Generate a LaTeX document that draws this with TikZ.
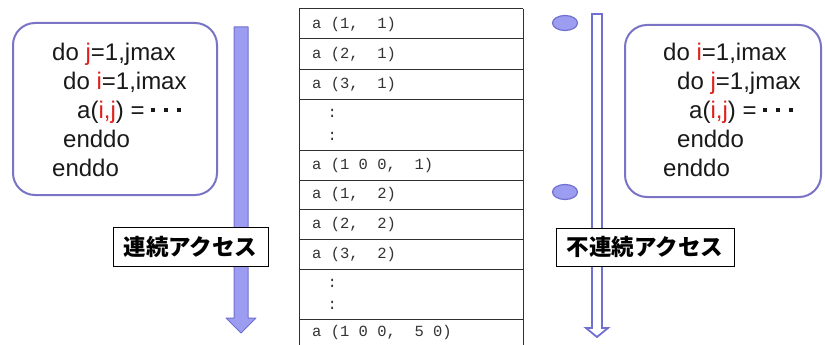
\documentclass[tikz,border=0pt]{standalone}
\usepackage{fontspec}
\setmainfont{Liberation Sans}
\newfontfamily\cjk{Noto Sans CJK JP}
\newfontfamily\monofnt{Liberation Mono}
\usetikzlibrary{shapes.geometric}
\definecolor{boxline}{HTML}{7A74C6}
\definecolor{arrfill}{HTML}{9C9CF0}
\definecolor{arrline}{HTML}{7070D0}
\definecolor{redv}{HTML}{E0201C}
\definecolor{tblline}{HTML}{303030}
\definecolor{tbltext}{HTML}{333333}
\newcommand\mydot{\rule[6pt]{3.6pt}{3.6pt}}
\newcommand\mydots{\mydot\hspace{9.4pt}\mydot\hspace{9.4pt}\mydot}
\begin{document}
\begin{tikzpicture}[x=1pt,y=-1pt,
  codebox/.style={draw=boxline, line width=2pt, rounded corners=22pt},
  codeline/.style={anchor=base west, inner sep=0pt, font=\fontsize{24}{28}\selectfont, text=black!90},
  celltext/.style={anchor=west, inner sep=0pt, font=\monofnt\fontsize{15.5}{18}\selectfont, text=tbltext},
  accesslabel/.style={draw=black, line width=0.8pt, fill=white, inner sep=0pt, font=\cjk\bfseries\fontsize{22.5}{26}\selectfont},
  dotmark/.style={ellipse, draw=arrline, fill=arrfill, line width=1.2pt, minimum width=25pt, minimum height=15pt, inner sep=0pt},
  tbl/.style={draw=tblline, line width=1pt},
]
\useasboundingbox[fill=white] (0,0) rectangle (825,345);

% left code box
\draw[codebox] (13,23) rectangle (217,195);
\node[codeline] (l1) at (52,60)  {do {\color{redv}j}=1,jmax};
\node[codeline] (l2) at (63,89)  {do {\color{redv}i}=1,imax};
\node[codeline] (l3) at (77,118) {a({\color{redv}i,j}) = \mydots};
\node[codeline] (l4) at (63,147) {enddo};
\node[codeline] (l5) at (52,176) {enddo};

% left filled arrow
\draw[fill=arrfill, draw=arrline, line width=1pt, line join=round]
  (234,27) -- (248,27) -- (248,318) -- (256,318) -- (241,333) -- (226,318) -- (234,318) -- cycle;
\node[accesslabel, minimum width=155pt, minimum height=39pt] (acc1) at (190.5,246.5) {連続アクセス};

% memory table
\foreach \yy in {9,39,70,99,150,180,209,239,269,319}
  \draw[tbl] (299,\yy) -- (523,\yy);
\draw[tbl] (299,9) -- (299,346);
\draw[tbl] (523,9) -- (523,346);
\node[celltext] (c1) at (312,24)    {a~(1,~~1)};
\node[celltext] (c2) at (312,54.5)  {a~(2,~~1)};
\node[celltext] (c3) at (312,84.5)  {a~(3,~~1)};
\node[celltext] (d1) at (327.5,113) {:};
\node[celltext] (d2) at (327.5,136) {:};
\node[celltext] (c4) at (312,165)   {a~(1~0~0,~~1)};
\node[celltext] (c5) at (312,194.5) {a~(1,~~2)};
\node[celltext] (c6) at (312,224)   {a~(2,~~2)};
\node[celltext] (c7) at (312,254)   {a~(3,~~2)};
\node[celltext] (d3) at (327.5,283) {:};
\node[celltext] (d4) at (327.5,305) {:};
\node[celltext] (c8) at (312,332.5) {a~(1~0~0,~~5~0)};

% right hollow arrow and markers
\draw[fill=white, draw=arrline, line width=1.8pt, line join=miter]
  (592,14) -- (602,14) -- (602,328) -- (608,328) -- (597,337) -- (586,328) -- (592,328) -- cycle;
\node[dotmark] (e1) at (565,23) {};
\node[dotmark] (e2) at (565,192) {};
\node[accesslabel, minimum width=178pt, minimum height=38pt] (acc2) at (645,247) {不連続アクセス};

% right code box
\draw[codebox] (625,25) rectangle (821,197);
\node[codeline] (r1) at (663,60)  {do {\color{redv}i}=1,imax};
\node[codeline] (r2) at (677,89)  {do {\color{redv}j}=1,jmax};
\node[codeline] (r3) at (689,118) {a({\color{redv}i,j}) = \mydots};
\node[codeline] (r4) at (677,147) {enddo};
\node[codeline] (r5) at (663,176) {enddo};
\end{tikzpicture}
\end{document}
